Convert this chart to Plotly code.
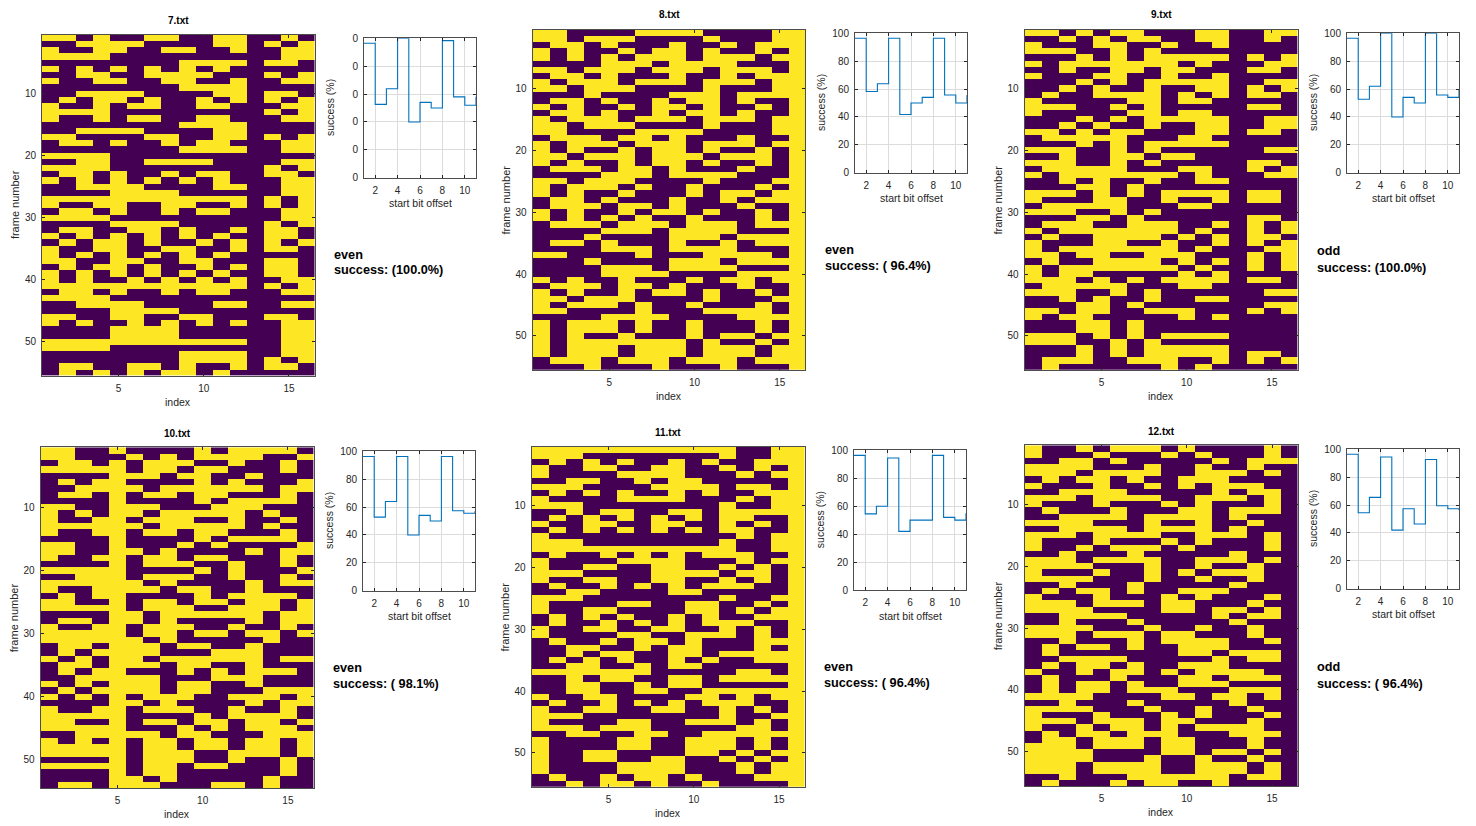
import plotly.graph_objects as go

W, H = 1476, 826
GOLD, DARK = "#fde725", "#440154"
INK = "#262626"
FONT = "Liberation Sans"

FILE_NAMES = ["7.txt", "8.txt", "9.txt", "10.txt", "11.txt", "12.txt"]
PARITY = ["even", "even", "odd", "even", "even", "odd"]
SUCCESS = ["(100.0%)", "( 96.4%)", "(100.0%)", "( 98.1%)", "( 96.4%)", "( 96.4%)"]

OFFSETS = [1, 2, 3, 4, 5, 6, 7, 8, 9, 10, 11]
RATE_7 = [96.4, 52.6, 63.8, 100, 40, 54, 50, 98.3, 58, 52, 58]
RATE_8 = [96.4, 58.2, 63.8, 96.4, 41.8, 50, 54, 96.4, 55.7, 50, 55.7]
RATE_9 = [96.4, 52.7, 62, 100, 40, 54, 50, 100, 55.7, 54, 60]
RATE_10 = [96.3, 52.8, 64, 96.3, 40, 54, 50, 96.3, 57.4, 55.6, 57]
RATE_11 = [96.4, 54.5, 60, 94.5, 42, 50, 50, 96.4, 52, 50, 55]
RATE_12 = [96.4, 54.5, 65.5, 94.5, 42, 57.4, 46.4, 92.7, 59.5, 57.4, 56.5]

BITS_7 = """1101001100110010 0011110000110101 1001100110010011 1111000000000011 0000000011110110
1010101010100000 0011001111000101 1001100110010011 0000000011110000 0011110000110110
0101101001010101 1001011001100011 1111000000000101 1001011001100011 0000000011110000
0011110000110000 1100001100110101 0110100101100011 0000000011110011 1111000000000000
0011001111000011 1111000000000101 0110100101100110 1010101010100011 0011110000110011
0000111100000011 1111111111110101 1001100110010101 0110100101100011 1111000000000011
0000111100000101 0110011010010110 1010101010100110 0101101001010101 1001100110010110
1010101010100000 1100110011000110 0101101001010110 1010101010100110 1010010101010011
1111111111110101 0110100101100011 1111000000000000 0011110000110011 0000111100000000
1100110011000110 1010010101010011 0000111100000011 0000111100000011 1111111111110011
1111000000000011 0000000011110011 0000000011110101 0110011010010110 0101010110100000""".split()

BITS_8 = """1100001111000011 1101110000100011 0110100010010111 1010010110100101 1010101110111011
0000111011110001 1101110111011101 0110100010010111 1011101110111011 1101110000100011
0001000011101111 0110100101101001 1010010110100101 0110100101101001 1011101110111011
1101110000100011 1100001111000011 0111011010001001 1011101110111011 1010010110100101
1101110111011101 1010010110100101 0111011010001001 0000111011110001 1101110000100011
1011101001000101 1010010001011011 0110100010010111 0111011010001001 1010010110100101
1010101001000101 0111011101110111 0000111011110001 0001000011101111 0110100010010111
0000111011110001 1100001000111101 0001000011101111 0000111011110001 0000111100001111
1010010001011011 0111011010001001 1010010110100101 1101110000100011 1011101001000101
1100001000111101 0000111100001111 1011101001000101 1011101001000101 1010010001011011
1011111110100101 1011101110111011 1011101110111011 0111011101110111 0001000100010001""".split()

BITS_9 = """1101011000110011 0010101100110010 1000110010010000 1110010100000000 0001010111110101
1011111110100011 0010011011000110 1000110010010000 0001010111110011 0010100100110101
0100111101010110 1000001101100000 1110010100000110 1000001101100000 0001010111110011
0010100100110011 1101011000110110 0111110001100000 0001010111110000 1110010100000011
0010011011000000 1110010100000110 0111110001100101 1011111110100011 0010100100110000
0001101000000000 1110101011110110 1000110010010110 0111110001100000 1110010100000000
0001101000000110 0111001110010101 1011111110100101 0100111101010110 1000110010010101
1011111110100011 1101100111000101 0100111101010101 1011111110100101 1011000001010000
1110101011110110 0111110001100000 1110010100000011 0010100100110000 0001101000000011
1101100111000101 1011000001010000 0001101000000000 0001101000000000 1110101011110000
1110010100000000 0001010111110000 0001010111110110 0111001110010101 0100000010100000""".split()

BITS_10 = """1100100001011110 1100010101111001 0110101110010010 1111101101100010 0000111011001000
0101100001010001 0011110111111011 0110101101100010 0000100001011110 1100111000111000
1010110111110100 1001101110010010 1111110111110100 1001101101100010 0000100001011110
1100100010100001 1100110100001011 1001101101100010 0000101110010010 1111100001010001
0011101110010010 1111110100001011 1001111011001000 0101100001011110 1100101101101101
1111101110011101 0000110111111011 0110110100001011 1001101110010010 1111101101101101
1111110100000100 0110111011001000 0101111000111000 1010110111111011 0110111011001000
0101100010101110 0011111000111000 1010111011001000 0101111011000111 1010101110011101
0000110100001011 1001101110010010 1111100001011110 1100101101101101 1111100010101110
0011111011000111 1010101101101101 1111101101101101 1111101110011101 0000101110010010
1111101101100010 0000101100000010 0000110100000100 0110111000110100""".split()

BITS_11 = """1111111111110011 1110000000010011 0101010010100111 1001100110010101 1000011110001011
0011001011000001 1110000111101101 0101010010100111 1000011110001011 1110000000010011
0010110011011111 0101010101011001 1001100110010101 0101010101011001 1000000000001011
1110000000010011 1111111111110011 0100101010111001 1000011110001011 1001100110010101
1110000111101101 1001100110010101 0100101010111001 0011000011000001 1110000000010011
1000011001100101 1001100001101011 0101010010100111 0100101010111001 1001100110010101
1000011001110101 0100101101000111 0011001011000101 0010110011011111 0101010010100111
0011001011000001 1111111000001101 0010110011011111 0011001011000001 0011001100111111
1001100001101011 0100101010111001 1001100110010101 1110000000010011 1000011001110101
1110111000001101 0011001100111111 1000011001110101 1000011001110101 1001100001101011
1001100110010101 1000011110001011 1000011110001011 0100101101000111 0010110100100001""".split()

BITS_12 = """1001011101000010 1000100010100010 0011010000010111 1111000100100100 1110111100111010
0101101001110000 1000100101011100 0011110000010110 1110111100111010 1000100010100010
0100010001101110 0011110111101000 1111000100100100 0011110111101000 1110111100111010
1000100010100010 1001011101000010 0010001000001000 1110111100111010 1111000100100100
1000100101011100 1111000100100100 0010001000001000 0101101001110000 1000100010100010
1110111011000100 1111000011011010 0011110000010110 0010001000001000 1111000100100100
1110111011000100 0010001011110010 0101101001110000 0100000001101110 0011110000010110
0101101001110000 1001011010111100 0100010001101110 0101101001110000 0101101110001110
1111000011011010 0010001000001000 1111000100100100 1000100010100010 1110111011000100
1001011010111100 0101101110001110 0110111011000100 1110111011000100 1111000011011010
1111000100100100 1110111100111010 1110111100111010 0010001111110110 0100010110010000""".split()

ALL_BITS = [BITS_7, BITS_8, BITS_9, BITS_10, BITS_11, BITS_12]
ALL_RATES = [RATE_7, RATE_8, RATE_9, RATE_10, RATE_11, RATE_12]

# page-pixel layout: left, right, top, bottom
HEAT_BOX = [(42, 314.5, 34.7, 375.5), (532.7, 805.3, 29.7, 370), (1024.7, 1297.5, 29.7, 370),
            (40.7, 313.5, 447.3, 788), (531.7, 804.7, 446.7, 787), (1024.7, 1297.7, 445.3, 786)]
LINE_BOX = [(364, 476, 38.3, 177.7), (855, 967, 33.3, 172.7), (1347, 1459, 33.3, 172.7),
            (363, 475, 451.3, 590.7), (854, 966, 450.3, 590), (1347, 1459, 449.3, 588.7)]
TITLE_Y = [20, 15, 15, 433, 432, 431]
NOTE_X = [332, 823, 1315, 331, 822, 1315]
NOTE_Y = [255, 250, 250.5, 667.5, 666.5, 666.5]
NOTE2_Y = [270.5, 265.5, 267.5, 683.5, 682.5, 683.5]

fig = go.Figure()
layout = {}
notes = []


def px(x):
    return x / W


def py(y):
    return 1 - y / H


def text(x, y, s, size=10, bold=False, anchor="center", angle=0):
    notes.append(dict(x=px(x), y=py(y), xref="paper", yref="paper", text=f"<b>{s}</b>" if bold else s,
                      showarrow=False, xanchor=anchor, yanchor="middle", textangle=angle,
                      font=dict(family=FONT, size=size, color="#000000" if bold else INK)))


def axis(box_a, box_b, **kw):
    base = dict(domain=[box_a, box_b], showline=True, mirror="ticks", linecolor="#4d4d4d", linewidth=1,
                ticks="inside", ticklen=3, tickwidth=1, tickcolor=INK, zeroline=False, automargin=False,
                ticklabelstandoff=3, tickfont=dict(family=FONT, size=10, color=INK))
    base.update(kw)
    return base


for i in range(6):
    rows = [[int(c) for c in r] for r in ALL_BITS[i]]
    assert all(len(r) == 16 for r in rows)
    n = len(rows)
    l, r, t, b = HEAT_BOX[i]
    xa, ya = f"x{2*i+1}", f"y{2*i+1}"
    fig.add_trace(go.Heatmap(z=rows, x=list(range(1, 17)), y=list(range(1, n + 1)), zmin=0, zmax=1,
                             colorscale=[[0, DARK], [1, GOLD]], showscale=False, xaxis=xa, yaxis=ya,
                             hoverongaps=False))
    layout[f"xaxis{2*i+1}"] = axis(px(l), px(r), anchor=ya, range=[0.5, 16.5], tickvals=[5, 10, 15],
                                   showgrid=False)
    layout[f"yaxis{2*i+1}"] = axis(py(b), py(t), anchor=xa, range=[n + 0.5, 0.5],
                                   tickvals=[10, 20, 30, 40, 50], showgrid=False)
    text((l + r) / 2, TITLE_Y[i], FILE_NAMES[i], size=10, bold=True)
    text((l + r) / 2, b + 26, "index", size=10.5)
    text(l - 27, (t + b) / 2, "frame number", size=11, angle=-90)

    l2, r2, t2, b2 = LINE_BOX[i]
    xb, yb = f"x{2*i+2}", f"y{2*i+2}"
    fig.add_trace(go.Scatter(x=OFFSETS, y=ALL_RATES[i], mode="lines", line=dict(color="#0072bd", width=1.1, shape="hv"),
                             xaxis=xb, yaxis=yb, showlegend=False))
    tick_kw = dict(tickvals=[0, 20, 40, 60, 80, 100])
    if i == 0:
        tick_kw["ticktext"] = ["0"] * 6
    layout[f"xaxis{2*i+2}"] = axis(px(l2), px(r2), anchor=yb, range=[1, 11], tickvals=[2, 4, 6, 8, 10],
                                   showgrid=True, gridcolor="#dcdcdc", gridwidth=1)
    layout[f"yaxis{2*i+2}"] = axis(py(b2), py(t2), anchor=xb, range=[0, 100],
                                   showgrid=True, gridcolor="#dcdcdc", gridwidth=1, **tick_kw)
    text((l2 + r2) / 2, b2 + 25.5, "start bit offset", size=10.5)
    text(l2 - 34, (t2 + b2) / 2, "success (%)", size=10.5, angle=-90)
    text(NOTE_X[i], NOTE_Y[i], PARITY[i], size=12.7, bold=True, anchor="left")
    text(NOTE_X[i], NOTE2_Y[i], f"success: {SUCCESS[i]}", size=12.7, bold=True, anchor="left")

fig.update_layout(width=W, height=H, margin=dict(l=0, r=0, t=0, b=0), paper_bgcolor="white",
                  plot_bgcolor="white", showlegend=False, annotations=notes, **layout)
fig.write_html("out.html", config={"displayModeBar": False},
               post_script="document.body.style.margin='0';document.body.style.overflow='hidden';")
